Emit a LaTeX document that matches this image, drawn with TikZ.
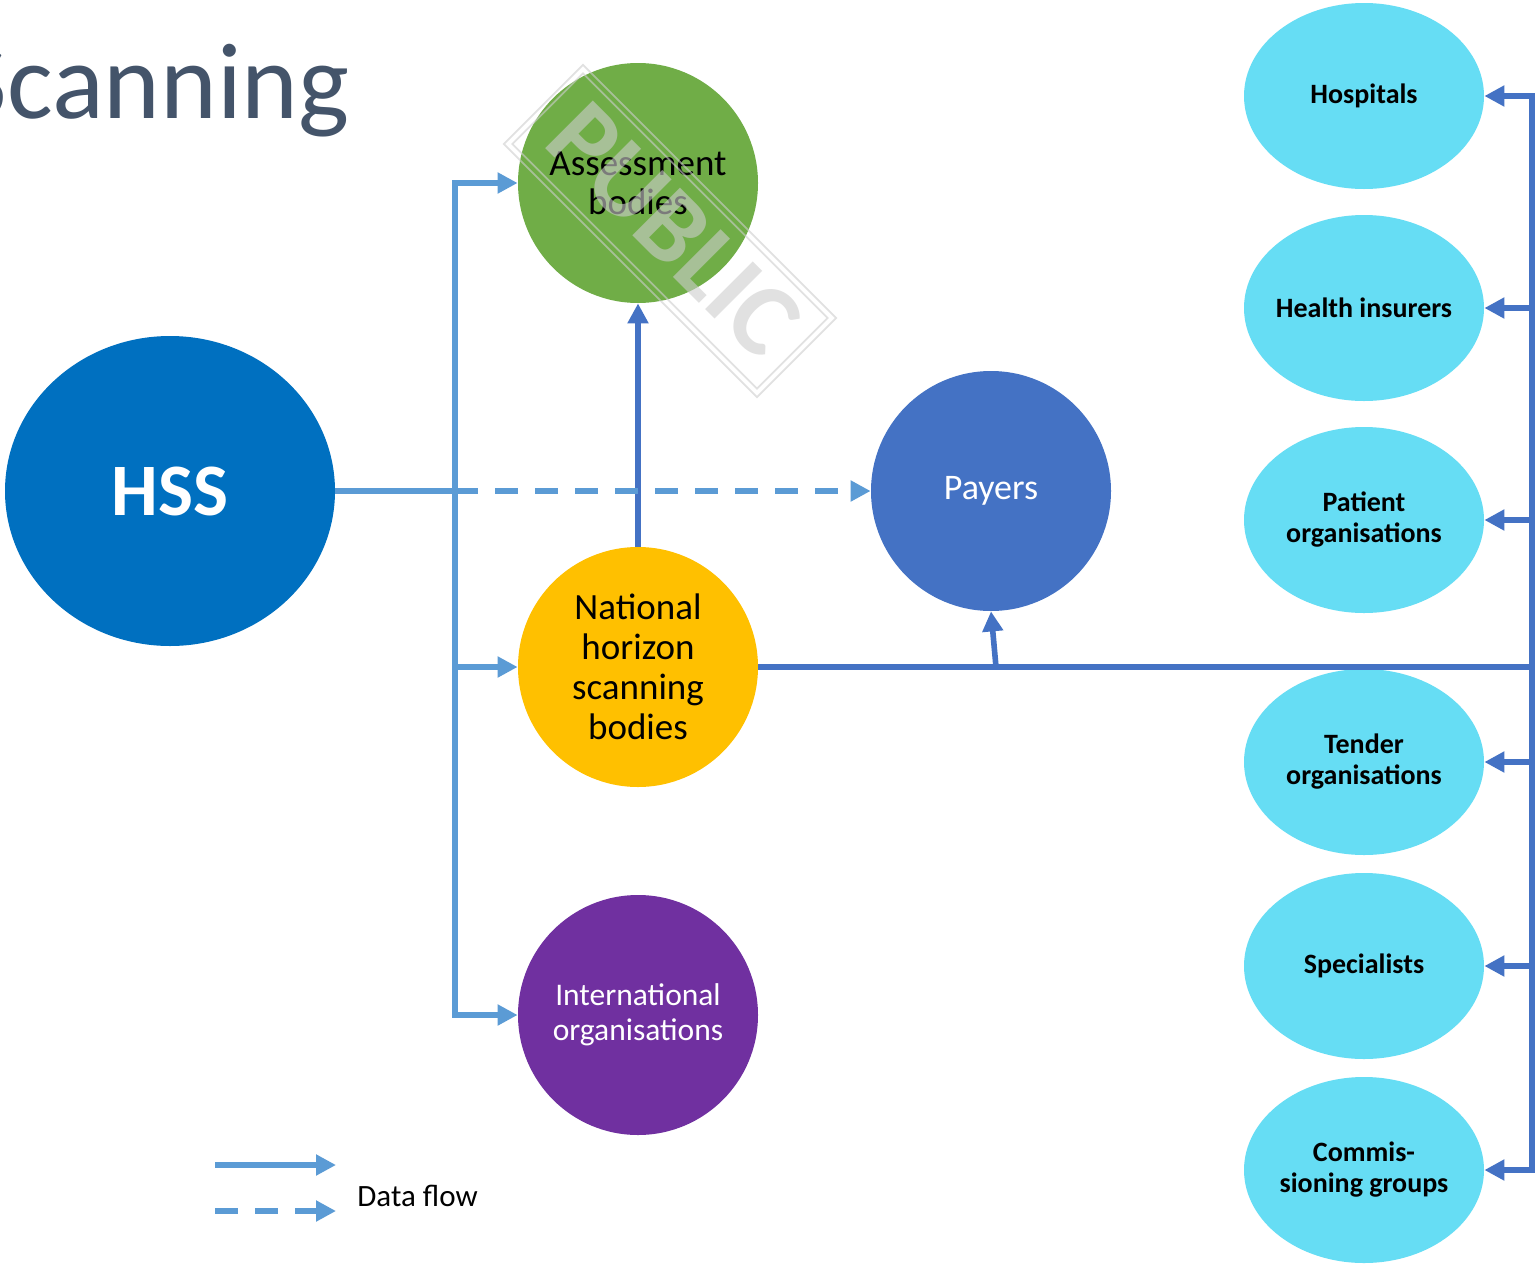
\documentclass[tikz,border=0pt]{standalone}
\usepackage{fontspec}
\setmainfont{Carlito}
\usetikzlibrary{shapes.geometric,arrows.meta}
\definecolor{titlec}{RGB}{68,84,106}
\definecolor{hssc}{RGB}{0,112,192}
\definecolor{greenc}{RGB}{112,173,71}
\definecolor{goldc}{RGB}{255,192,0}
\definecolor{purplec}{RGB}{112,48,160}
\definecolor{payc}{RGB}{68,114,196}
\definecolor{cyanc}{RGB}{102,221,244}
\definecolor{lightb}{RGB}{91,155,213}
\definecolor{darkb}{RGB}{68,114,196}
\definecolor{wmc}{RGB}{205,205,205}
\tikzset{
  bigcirc/.style={circle,inner sep=0pt,minimum size=120pt,align=center},
  sidell/.style={ellipse,fill=cyanc,inner sep=0pt,minimum width=120pt,minimum height=93pt,
    label={[align=center,font=\bfseries\fontsize{14}{15.5}\selectfont,inner sep=0pt]center:#1}},
  lb/.style={draw=lightb,line width=2.8pt},
  db/.style={draw=darkb,line width=2.8pt},
  tip/.style={-{Triangle[length=10pt,width=10pt]}},
  dashpat/.style={dash pattern=on 11.5pt off 8.5pt},
}
\begin{document}
\begin{tikzpicture}[x=0.5pt,y=-0.5pt]
\useasboundingbox (0,0) rectangle (1538,1264);
\clip (0,0) rectangle (1538,1264);
\fill[white] (0,0) rectangle (1538,1264);
% title
\node[anchor=base east,inner sep=0pt,text=titlec,font=\fontsize{54}{60}\selectfont] (title) at (350,118) {Scanning};
% nodes
\node[ellipse,fill=hssc,inner sep=0pt,minimum width=165pt,minimum height=155pt,text=white,font=\bfseries\fontsize{37}{40}\selectfont] (hss) at (170,491) {HSS};
\node[bigcirc,fill=greenc,font=\fontsize{18.5}{19.5}\selectfont] (ab) at (638,183) {Assessment\\bodies};
\node[bigcirc,fill=goldc,font=\fontsize{18.5}{20}\selectfont] (nh) at (638,667) {National\\horizon\\scanning\\bodies};
\node[bigcirc,fill=purplec,text=white,font=\fontsize{15.75}{17.5}\selectfont] (io) at (638,1015) {International\\organisations};
\node[bigcirc,fill=payc,text=white,font=\fontsize{18}{20}\selectfont] (pay) at (991,491) {Payers};
\node[sidell={Hospitals}] (hosp) at (1364,96) {};
\node[sidell={Health insurers}] (hins) at (1364,308) {};
\node[sidell={Patient\\organisations}] (pat) at (1364,520) {};
\node[sidell={Tender\\organisations}] (ten) at (1364,762) {};
\node[sidell={Specialists}] (spec) at (1364,966) {};
\node[sidell={Commis-\\sioning groups}] (comm) at (1364,1170) {};
% light blue connectors
\coordinate (tA) at (455,183);
\coordinate (tH) at (455,491);
\coordinate (tN) at (455,667);
\coordinate (tI) at (455,1015);
\draw[lb] (hss.east) -- (tH);
\draw[lb,{Triangle[length=10pt,width=10pt]}-{Triangle[length=10pt,width=10pt]}] (ab.west) -- (tA) -- (tI) -- (io.west);
\draw[lb,tip] (tN) -- (nh.west);
% dark blue connectors
\draw[db,tip] (nh.north) -- (ab.south);
\draw[lb,dashpat,tip] (tH) -- (pay.west);
\coordinate (bH) at (1532,667);
\coordinate (pj) at (996,667);
\draw[db] (nh.east) -- (bH);
\draw[db,tip] (pj) -- (pay.south);
\coordinate (b1) at (1532,96);
\coordinate (b2) at (1532,308);
\coordinate (b3) at (1532,520);
\coordinate (b4) at (1532,762);
\coordinate (b5) at (1532,966);
\coordinate (b6) at (1532,1170);
\draw[db,{Triangle[length=10pt,width=10pt]}-{Triangle[length=10pt,width=10pt]}] (hosp.east) -- (b1) -- (b6) -- (comm.east);
\draw[db,tip] (b2) -- (hins.east);
\draw[db,tip] (b3) -- (pat.east);
\draw[db,tip] (b4) -- (ten.east);
\draw[db,tip] (b5) -- (spec.east);
% legend
\coordinate (l1s) at (215,1165);
\coordinate (l1e) at (336,1165);
\coordinate (l2s) at (215,1211);
\coordinate (l2e) at (336,1211);
\draw[lb,tip] (l1s) -- (l1e);
\draw[lb,dashpat,tip] (l2s) -- (l2e);
\node[font=\fontsize{15.5}{17}\selectfont,anchor=west,inner sep=0pt] (leg) at (357,1196) {Data flow};
% watermark
\begin{scope}[opacity=0.6]
\node[rotate=-45,draw=wmc,line width=0.9pt,minimum width=179pt,minimum height=56pt,inner sep=0pt] (wm1) at (670,231) {};
\node[rotate=-45,draw=wmc,line width=0.9pt,minimum width=173pt,minimum height=50pt,inner sep=0pt] (wm2) at (670,231) {};
\node[rotate=-45,text=wmc,font=\bfseries\fontsize{52}{52}\selectfont,inner sep=0pt] (wmt) at (674,230) {PUBLIC};
\end{scope}
\end{tikzpicture}
\end{document}
